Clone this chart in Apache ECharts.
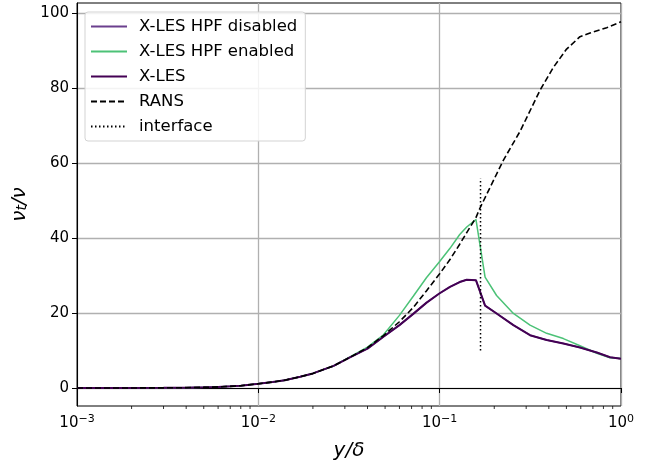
<!DOCTYPE html>
<html>
<head>
<meta charset="utf-8">
<script src="https://cdn.jsdelivr.net/npm/echarts@6/dist/echarts.min.js"></script>
<style>
  html, body { margin: 0; padding: 0; background: #fff; }
  #chart { width: 650px; height: 466px; }
</style>
</head>
<body>
<div id="chart"></div>
<script>
// Wall-normal positions y/delta shared by the X-LES profiles
const yDelta = [0.001, 0.0015, 0.002, 0.003, 0.004, 0.005, 0.006, 0.007, 0.008, 0.01,
  0.012, 0.014, 0.017, 0.02, 0.026, 0.032, 0.04, 0.049, 0.06, 0.0715, 0.0847, 0.1,
  0.114, 0.129, 0.141, 0.1585, 0.178, 0.206, 0.255, 0.315, 0.389, 0.481, 0.594,
  0.735, 0.87, 1.0];

// Eddy-viscosity ratio nu_t/nu
const hpfDisabled = [0, 0.01, 0.02, 0.05, 0.1, 0.18, 0.3, 0.45, 0.62, 1.15,
  1.6, 2.1, 3.0, 3.9, 5.9, 8.2, 10.5, 13.7, 16.8, 19.8, 22.8, 25.3,
  27.0, 28.3, 28.9, 28.8, 22.0, 19.9, 16.8, 14.1, 12.8, 11.9, 10.8,
  9.5, 8.2, 7.8];
const hpfEnabled = [0, 0.01, 0.02, 0.05, 0.1, 0.18, 0.3, 0.45, 0.62, 1.15,
  1.6, 2.1, 3.0, 3.9, 5.9, 8.3, 10.9, 14.2, 19.4, 24.5, 29.5, 33.8,
  37.3, 41.0, 43.0, 45.0, 29.6, 24.7, 19.9, 16.8, 14.6, 13.2, 11.3,
  9.3, 8.1, 7.9];
const xles = [0, 0.01, 0.02, 0.05, 0.1, 0.18, 0.3, 0.45, 0.62, 1.15,
  1.6, 2.1, 3.0, 3.9, 5.9, 8.2, 10.5, 13.7, 16.8, 19.8, 22.8, 25.3,
  27.0, 28.3, 28.9, 28.8, 22.0, 19.9, 16.8, 14.1, 12.8, 11.9, 10.8,
  9.5, 8.2, 7.8];

// RANS profile
const ransY = [0.001, 0.0015, 0.002, 0.003, 0.004, 0.005, 0.006, 0.007, 0.008, 0.01,
  0.012, 0.014, 0.017, 0.02, 0.026, 0.032, 0.04, 0.049, 0.06, 0.0715, 0.0847, 0.1,
  0.114, 0.129, 0.141, 0.1585, 0.1667, 0.2244, 0.2773, 0.3576, 0.4236, 0.5012,
  0.594, 0.675, 0.834, 1.0];
const ransNu = [0, 0.01, 0.02, 0.05, 0.1, 0.18, 0.3, 0.45, 0.62, 1.15,
  1.6, 2.1, 3.0, 3.9, 5.9, 8.2, 10.8, 14.0, 17.7, 21.5, 26.0, 30.5,
  34.3, 38.4, 41.5, 45.5, 48.0, 60.8, 68.5, 79.5, 85.6, 90.5,
  93.8, 94.8, 96.2, 97.8];

// RANS / LES interface location
const interfaceY = [0.168, 0.168];
const interfaceNu = [10, 56];

// Axis ticks
const yTicks = [0, 20, 40, 60, 80, 100];
const superscripts = { '0.001': '−3', '0.01': '−2', '0.1': '−1', '1': '0' };

const yMin = -4.8, yMax = 102.8;

const xMinor = [];
for (let d = 0.001; d < 0.9; d *= 10) {
  for (let k = 2; k <= 9; k++) xMinor.push(+(k * d).toPrecision(3));
}

const pair = (xs, ys) => xs.map((x, i) => [x, ys[i]]);

const FONT = 'DejaVu Sans';

const chart = echarts.init(document.getElementById('chart'), null, { renderer: 'canvas' });

chart.setOption({
  animation: false,
  backgroundColor: '#ffffff',
  textStyle: { fontFamily: FONT },
  grid: {
    left: 77, right: 29, top: 3, bottom: 58,
    show: true, borderColor: '#000', borderWidth: 1, backgroundColor: 'transparent'
  },
  legend: {
    orient: 'vertical',
    left: 85, top: 12,
    padding: [5, 8, 5, 5],
    itemWidth: 36, itemHeight: 14, itemGap: 6,
    backgroundColor: 'rgba(255,255,255,0.85)',
    borderColor: '#d3d3d3', borderWidth: 1, borderRadius: 3,
    itemStyle: { color: 'rgba(0,0,0,0)', borderColor: 'rgba(0,0,0,0)', borderWidth: 0 },
    textStyle: { fontFamily: FONT, fontSize: 16.5, color: '#000', lineHeight: 19, padding: [0, 0, 0, 7] },
    data: ['X-LES HPF disabled', 'X-LES HPF enabled', 'X-LES', 'RANS', 'interface']
  },
  xAxis: {
    type: 'log', logBase: 10, min: 0.001, max: 1,
    name: 'y/δ', nameLocation: 'middle', nameGap: 35,
    nameTextStyle: { fontFamily: FONT, fontSize: 20, fontStyle: 'italic', color: '#000' },
    axisLine: { show: true, lineStyle: { color: '#000', width: 1 } },
    axisTick: { show: true, inside: false, length: 5, lineStyle: { color: '#000', width: 1 } },
    axisLabel: {
      margin: 8, color: '#000', fontFamily: FONT, fontSize: 15,
      formatter: v => '10{sup|' + (superscripts[String(+v.toPrecision(3))] || '') + '}',
      rich: { sup: { fontSize: 11, verticalAlign: 'top', padding: [0, 0, 8, 0], color: '#000', fontFamily: FONT } }
    },
    splitLine: { show: true, lineStyle: { color: '#b0b0b0', width: 1.3 } }
  },
  yAxis: {
    type: 'value', min: yMin, max: yMax,
    name: 'ν{sub|t}/ν', nameLocation: 'middle', nameGap: 46,
    nameTextStyle: {
      fontFamily: FONT, fontSize: 20, fontStyle: 'italic', color: '#000',
      rich: { sub: { fontSize: 14, fontStyle: 'italic', verticalAlign: 'bottom', padding: [6, 0, 0, 0], fontFamily: FONT } }
    },
    axisLine: { show: true, lineStyle: { color: '#000', width: 1 } },
    axisTick: { show: true, inside: false, length: 5, customValues: yTicks, lineStyle: { color: '#000', width: 1 } },
    axisLabel: { customValues: yTicks, margin: 8, color: '#000', fontFamily: FONT, fontSize: 15 },
    splitLine: { show: true, lineStyle: { color: '#b0b0b0', width: 1.3 } }
  },
  series: [
    {
      name: 'X-LES HPF disabled', type: 'line', data: pair(yDelta, hpfDisabled),
      showSymbol: false, symbol: 'none', z: 2,
      lineStyle: { color: '#6b3f8d', width: 1.5 }, itemStyle: { color: '#6b3f8d' }
    },
    {
      name: 'X-LES HPF enabled', type: 'line', data: pair(yDelta, hpfEnabled),
      showSymbol: false, symbol: 'none', z: 3,
      lineStyle: { color: '#4cc277', width: 1.5 }, itemStyle: { color: '#4cc277' }
    },
    {
      name: 'X-LES', type: 'line', data: pair(yDelta, xles),
      showSymbol: false, symbol: 'none', z: 4,
      lineStyle: { color: '#440154', width: 2 }, itemStyle: { color: '#440154' }
    },
    {
      name: 'RANS', type: 'line', data: pair(ransY, ransNu),
      showSymbol: false, symbol: 'none', z: 5,
      lineStyle: { color: '#000', width: 1.6, type: [6, 3] }, itemStyle: { color: '#000' }
    },
    {
      name: 'interface', type: 'line', data: pair(interfaceY, interfaceNu),
      showSymbol: false, symbol: 'none', z: 6,
      lineStyle: { color: '#000', width: 1.5, type: [1.5, 2.5] }, itemStyle: { color: '#000' }
    },
    {
      // minor ticks of the logarithmic x axis
      type: 'custom', silent: true, clip: false, z: 1,
      data: xMinor.map(x => [x]),
      encode: { x: 0 },
      renderItem: (params, api) => {
        const p = api.coord([api.value(0), yMin]);
        return {
          type: 'line',
          shape: { x1: p[0], y1: p[1], x2: p[0], y2: p[1] + 3 },
          style: { stroke: '#000', lineWidth: 0.8 }
        };
      }
    }
  ]
});
</script>
</body>
</html>
